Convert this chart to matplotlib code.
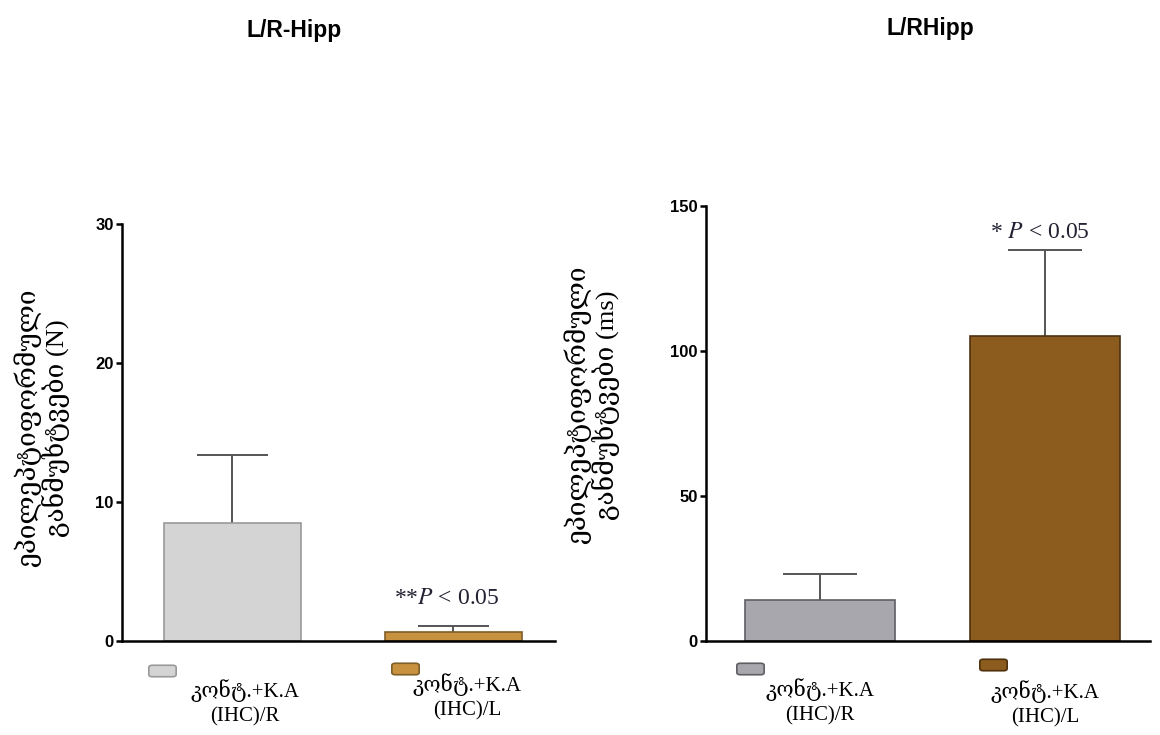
import matplotlib
matplotlib.use("Agg")
import matplotlib.pyplot as plt
from matplotlib.patches import FancyBboxPatch

plt.rcParams["mathtext.fontset"] = "stix"

# ── Data ──────────────────────────────────────────────────────────────────────
groups = ["კონტ.+K.A\n(IHC)/R", "კონტ.+K.A\n(IHC)/L"]
count_mean = [8.5, 0.65]
count_err = [4.85, 0.45]
dur_mean = [14.2, 105.2]
dur_err = [9.0, 29.6]

titles = ["L/R-Hipp", "L/RHipp"]
ylabels = ["ეპილეპტიფორმული\nგანმუხტვები (N)", "ეპილეპტიფორმული\nგანმუხტვები (ms)"]
notes = [r"**$P$ < 0.05", r"* $P$ < 0.05"]

LEFT_COLORS = ["#d4d4d4", "#c8913f"]
LEFT_EDGES = ["#9a9a9a", "#7f5e2a"]
RIGHT_COLORS = ["#a7a7ad", "#8c5b1e"]
RIGHT_EDGES = ["#5f5f63", "#4e3210"]

GEO = ["Liberation Serif", "DejaVu Serif", "DejaVu Sans"]
TICKF = ["Liberation Sans Narrow", "Liberation Sans", "DejaVu Sans"]

fig = plt.figure(figsize=(11.6, 7.35), dpi=100)
fig.patch.set_facecolor("white")


def px(x, y):
    return x / 1160, 1 - y / 735


def make_panel(rect, means, errs, colors, edges, ylim, yticks, xlim, width, cap):
    ax = fig.add_axes(rect)
    pos = list(range(len(means)))
    ax.bar(pos, means, width=width, color=colors, edgecolor=edges, linewidth=1.2, zorder=2)
    tops = [m + e for m, e in zip(means, errs)]
    ax.vlines(pos, means, tops, color="#555555", lw=1.4, zorder=1)
    ax.hlines(tops, [p - cap for p in pos], [p + cap for p in pos], color="#555555", lw=1.4, zorder=1)
    ax.set_xlim(*xlim)
    ax.set_ylim(*ylim)
    ax.set_yticks(yticks)
    ax.set_xticks([])
    for s in ["top", "right"]:
        ax.spines[s].set_visible(False)
    ax.spines["left"].set_linewidth(1.8)
    ax.spines["bottom"].set_linewidth(1.8)
    ax.tick_params(axis="y", direction="out", length=4, width=1.8, pad=2)
    for lbl in ax.get_yticklabels():
        lbl.set_family(TICKF)
        lbl.set_fontweight("bold")
        lbl.set_fontsize(12)
    return ax


axL = make_panel([*px(122, 641), 433 / 1160, (641 - 224) / 735], count_mean, count_err,
                 LEFT_COLORS, LEFT_EDGES, (0, 30), [0, 10, 20, 30], (-0.5, 1.46), 0.62, 0.16)
axR = make_panel([*px(706, 641), 444 / 1160, (641 - 206) / 735], dur_mean, dur_err,
                 RIGHT_COLORS, RIGHT_EDGES, (0, 150), [0, 50, 100, 150], (-0.507, 1.467), 0.667, 0.165)

# ── Titles ────────────────────────────────────────────────────────────────────
fig.text(*px(294, 30), titles[0], ha="center", va="center", fontsize=16.5,
         fontweight="bold", family=TICKF)
fig.text(*px(930, 28), titles[1], ha="center", va="center", fontsize=16.5,
         fontweight="bold", family=TICKF)

# ── Y labels ──────────────────────────────────────────────────────────────────
fig.text(*px(42, 428), ylabels[0], ha="center", va="center", rotation=90,
         fontsize=19, family=GEO, linespacing=1.05)
fig.text(*px(592, 405), ylabels[1], ha="center", va="center", rotation=90,
         fontsize=19, family=GEO, linespacing=1.05)

# ── P-value notes ─────────────────────────────────────────────────────────────
fig.text(*px(447, 598), notes[0], ha="center", va="center", fontsize=17,
         family=["Liberation Serif"], color="#222233")
fig.text(*px(1040, 232), notes[1], ha="center", va="center", fontsize=17,
         family=["Liberation Serif"], color="#222233")

# ── Legends below the axes ────────────────────────────────────────────────────
legend_spots = [
    # patch x, patch y, text x, text y, color, edge, label
    (150, 666, 245, 703, LEFT_COLORS[0], LEFT_EDGES[0], groups[0]),
    (393, 664, 467, 697, LEFT_COLORS[1], LEFT_EDGES[1], groups[1]),
    (738, 664, 820, 702, RIGHT_COLORS[0], RIGHT_EDGES[0], groups[0]),
    (981, 660, 1045, 704, RIGHT_COLORS[1], RIGHT_EDGES[1], groups[1]),
]
for pxl, pyl, tx, ty, clr, edg, lbl in legend_spots:
    x0, y0 = px(pxl, pyl + 10)
    patch = FancyBboxPatch((x0, y0), 25 / 1160, 10 / 735,
                           boxstyle="round,pad=0.001,rounding_size=0.003",
                           facecolor=clr, edgecolor=edg, linewidth=1.2,
                           transform=fig.transFigure)
    fig.add_artist(patch)
    fig.text(*px(tx, ty), lbl, ha="center", va="center", fontsize=15,
             family=GEO, linespacing=1.35)

plt.savefig("out.png", dpi=100, facecolor="white")
plt.close()
